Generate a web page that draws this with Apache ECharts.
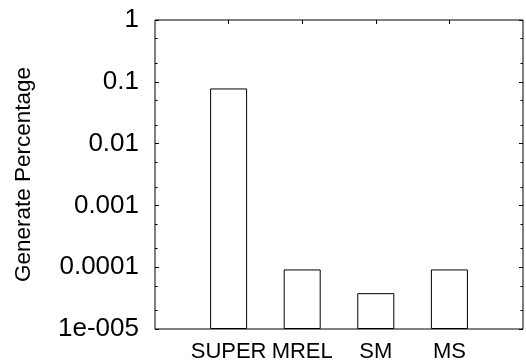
<!DOCTYPE html>
<html>
<head>
<meta charset="utf-8">
<script src="https://cdn.jsdelivr.net/npm/echarts@6/dist/echarts.min.js"></script>
<style>
  html, body { margin: 0; padding: 0; background: #fff; }
  #chart { width: 526px; height: 364px; }
</style>
</head>
<body>
<div id="chart"></div>
<script>
// Categories and the generate percentage of each one
var categories = ['SUPER', 'MREL', 'SM', 'MS'];
var percentages = [0.078, 0.000092, 0.000038, 0.000092];

// Log-axis tick labels, bottom decade first (1e-5 ... 1)
var tickLabels = ['1e-005', '0.0001', '0.001', '0.01', '0.1', '1'];
var minorTickValues = [0.5, 0.2, 0.05, 0.02, 0.005, 0.002, 0.0005, 0.0002, 0.00005, 0.00002];

var FONT = '"Liberation Sans", Arial, sans-serif';

// Empty slots at both ends leave a gap of one category on each side
var axisCats = [''].concat(categories, ['']);
var barData = ['-'].concat(percentages, ['-']);

var logBase = {
  type: 'log', logBase: 10, min: 1e-5, max: 1, interval: 1,
  startValue: 1e-5,
  splitLine: { show: false },
  minorTick: { show: false },
  minorSplitLine: { show: false }
};

function yAxisFor(position, major) {
  var ax = Object.assign({}, logBase, {
    position: position,
    axisLine: { show: false },
    axisTick: major
      ? { show: true, inside: true, length: 4, lineStyle: { color: '#000', width: 1 } }
      : { show: true, inside: true, length: 2.5, customValues: minorTickValues, lineStyle: { color: '#000', width: 1 } },
    axisLabel: { show: false }
  });
  return ax;
}

var leftMajor = yAxisFor('left', true);
leftMajor.axisLabel = {
  show: true,
  margin: 16,
  color: '#000',
  fontFamily: FONT,
  fontSize: 26,
  formatter: function (v) {
    var e = Math.round(Math.log(v) / Math.LN10);
    return tickLabels[e + 5];
  }
};
leftMajor.name = 'Generate Percentage';
leftMajor.nameLocation = 'middle';
leftMajor.nameGap = 120;
leftMajor.nameTextStyle = { color: '#000', fontFamily: FONT, fontSize: 22.5 };

var chart = echarts.init(document.getElementById('chart'), null, { renderer: 'canvas' });
chart.setOption({
  animation: false,
  backgroundColor: '#fff',
  grid: {
    left: 155, right: 2, top: 20, bottom: 35,
    show: true, borderColor: '#000', borderWidth: 1, backgroundColor: 'transparent'
  },
  xAxis: [
    {
      type: 'category', data: axisCats, boundaryGap: false, position: 'bottom',
      axisLine: { show: false },
      axisTick: { show: false },
      axisLabel: { color: '#000', fontFamily: FONT, fontSize: 22, margin: 12, interval: 0 },
      splitLine: { show: false }
    },
    {
      type: 'category', data: axisCats, boundaryGap: false, position: 'top',
      axisLine: { show: false },
      axisTick: {
        show: true, inside: true, length: 4, lineStyle: { color: '#000' },
        interval: function (i) { return i > 0 && i < axisCats.length - 1; }
      },
      axisLabel: { show: false },
      splitLine: { show: false }
    }
  ],
  yAxis: [
    leftMajor,
    yAxisFor('left', false),
    yAxisFor('right', true),
    yAxisFor('right', false)
  ],
  series: [{
    type: 'bar',
    data: barData,
    xAxisIndex: 0,
    yAxisIndex: 0,
    barWidth: 37,
    itemStyle: { color: '#fff', borderColor: '#000', borderWidth: 1 },
    emphasis: { disabled: true }
  }]
});
</script>
</body>
</html>
